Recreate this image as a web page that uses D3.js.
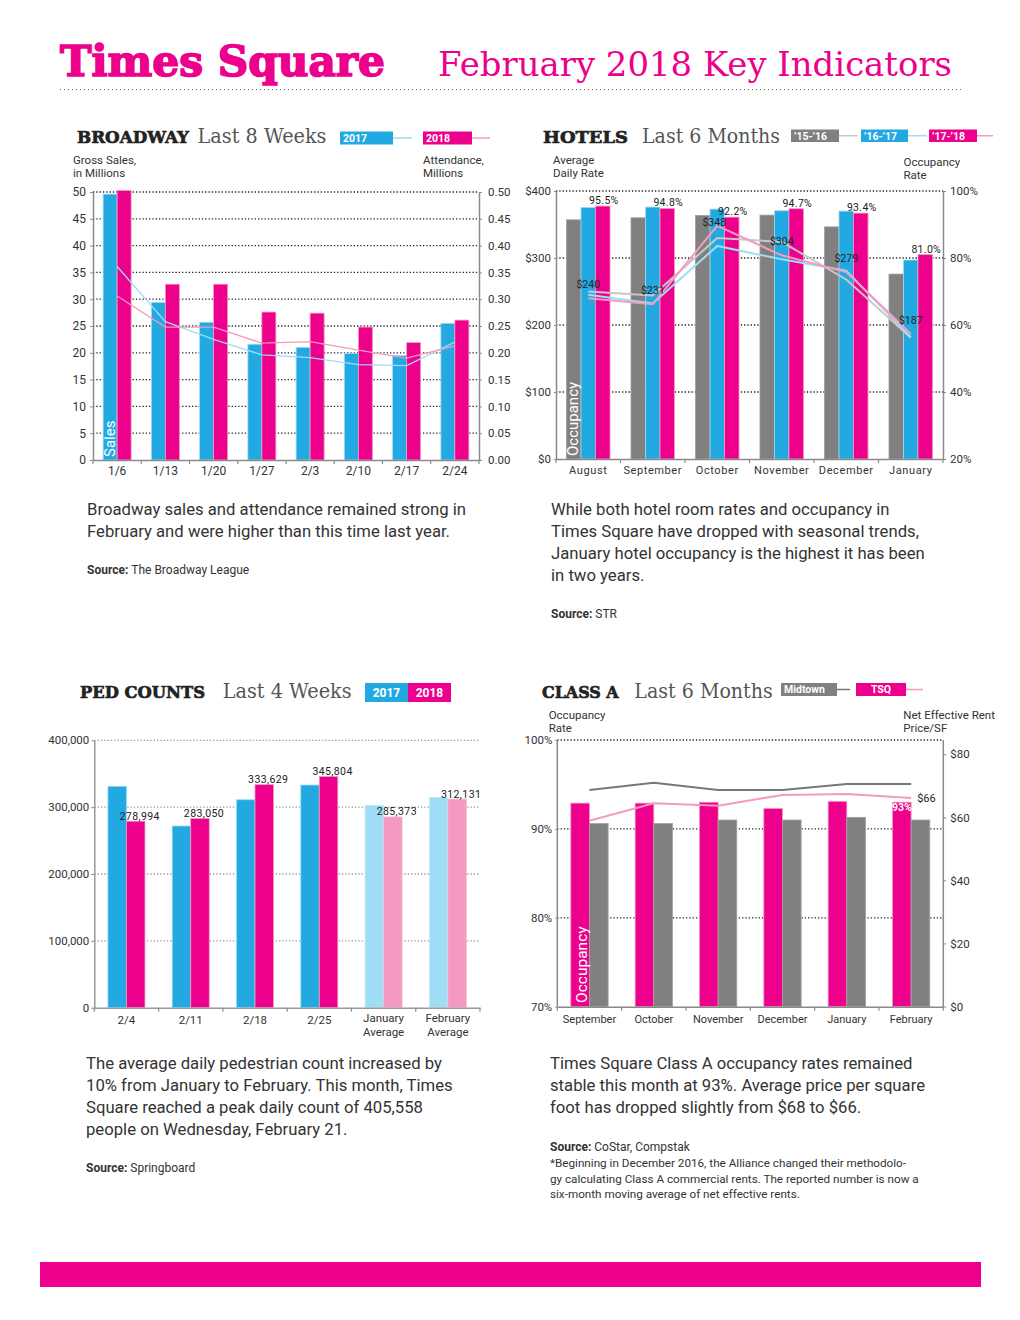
<!DOCTYPE html>
<html><head><meta charset="utf-8">
<script src="https://cdn.jsdelivr.net/npm/d3@7"></script>
<style>
body{margin:0;background:#fff;}
svg{display:block;}
svg{font-family:Roboto,"Noto Sans",sans-serif;}
</style></head><body>
<svg id="c" width="1020" height="1320"></svg>
<script>
// ---------------- DATA ----------------
const bwWeeks = ["1/6","1/13","1/20","1/27","2/3","2/10","2/17","2/24"];
const bwSales2017 = [49.6,29.4,25.7,21.6,21.0,19.9,19.5,25.5];
const bwSales2018 = [50.3,32.8,32.8,27.6,27.4,24.8,21.9,26.1];
const bwAtt2017 = [0.361,0.258,0.225,0.196,0.191,0.178,0.176,0.220];
const bwAtt2018 = [0.306,0.248,0.248,0.218,0.221,0.205,0.190,0.213];
const bwSalesTicks = [0,5,10,15,20,25,30,35,40,45,50];
const bwAttTicks = [0,0.05,0.10,0.15,0.20,0.25,0.30,0.35,0.40,0.45,0.50];

const htMonths = ["August","September","October","November","December","January"];
const htOcc1516 = [91.4,92.0,92.7,92.8,89.3,75.2];
const htOcc1617 = [95.1,95.2,94.6,94.1,94.0,79.4];
const htOcc1718 = [95.5,94.8,92.2,94.7,93.4,81.0];
const htAdr1516 = [250,244,330,324,268,181];
const htAdr1617 = [245,232,318,298,281,182];
const htAdr1718 = [240,231,348,304,279,187];
const htAdrTicks = [0,100,200,300,400];
const htOccTicks = [20,40,60,80,100];

const pedWeeks = ["2/4","2/11","2/18","2/25","January Average","February Average"];
const ped2017 = [331200,271800,311100,333100,302800,314700];
const ped2018 = [278994,283050,333629,345804,285373,312131];
const pedTicks = [0,100000,200000,300000,400000];

const caMonths = ["September","October","November","December","January","February"];
const caOccTSQ = [92.9,92.9,93.0,92.3,93.1,93.0];
const caOccMid = [90.6,90.6,91.0,91.0,91.3,91.0];
const caRentMid = [68.7,71.0,68.7,68.7,70.6,70.6];
const caRentTSQ = [58.9,64.5,63.7,67.1,67.4,66.1];
const caOccTicks = [70,80,90,100];
const caRentTicks = [0,20,40,60,80];

// ---------------- STYLE ----------------
const MAG="#ec008c", BLUE="#22a9e1", GRAY="#808080", LBLUE="#9fdcf5", LPINK="#f49ac1", LGRAY="#c8c8c8", TXT="#333", AX="#8a8a8a";
const SLAB="'DejaVu Serif', serif";
const svg=d3.select("#c");

// ---------------- HEADER ----------------
svg.append("text").attr("x",60).attr("y",76).style("font-family",SLAB).attr("font-weight","bold")
  .attr("font-size",42).attr("fill",MAG).attr("stroke",MAG).attr("stroke-width",1.6)
  .attr("textLength",325).attr("lengthAdjust","spacingAndGlyphs").text("Times Square");
svg.append("text").attr("x",438).attr("y",76).style("font-family",SLAB).attr("font-weight","normal")
  .attr("font-size",34).attr("fill",MAG).attr("textLength",514).attr("lengthAdjust","spacingAndGlyphs").text("February 2018 Key Indicators");
svg.append("line").attr("x1",60).attr("x2",962).attr("y1",89.5).attr("y2",89.5)
  .attr("stroke","#666").attr("stroke-width",1.2).attr("stroke-dasharray","1,3");
svg.append("rect").attr("x",40).attr("y",1262).attr("width",941).attr("height",25).attr("fill",MAG);

function heading(x,y,bold,bw,lx,light,lw){
  svg.append("text").attr("x",x).attr("y",y).style("font-family",SLAB).attr("font-weight","bold")
    .attr("font-size",17.5).attr("fill","#222").attr("stroke","#222").attr("stroke-width",0.7)
    .attr("textLength",bw).attr("lengthAdjust","spacingAndGlyphs").text(bold);
  svg.append("text").attr("x",lx).attr("y",y).style("font-family",SLAB)
    .attr("font-size",20.5).attr("fill","#555").attr("textLength",lw).attr("lengthAdjust","spacingAndGlyphs").text(light);
}
function legendBox(x,y,w,h,fill,label,fs,lineTo,lineColor,anchorMid){
  svg.append("rect").attr("x",x).attr("y",y).attr("width",w).attr("height",h).attr("fill",fill);
  svg.append("text").attr("x",anchorMid? x+w/2 : x+3).attr("y",y+h/2+fs*0.36).attr("text-anchor",anchorMid?"middle":"start")
    .attr("font-size",fs).attr("font-weight","bold").attr("fill","#fff").text(label);
  if(lineTo) svg.append("line").attr("x1",x+w).attr("x2",lineTo).attr("y1",y+h/2).attr("y2",y+h/2)
    .attr("stroke",lineColor).attr("stroke-width",1.5);
}
function lines2(x,y,arr,fs,lh,anchor){
  arr.forEach((t,i)=>svg.append("text").attr("x",x).attr("y",y+i*lh).attr("font-size",fs)
    .attr("fill",TXT).attr("text-anchor",anchor||"start").text(t));
}
function para(x,y,arr){ lines2(x,y,arr,16.7,22); }
function source(x,y,rest){
  const t=svg.append("text").attr("x",x).attr("y",y).attr("font-size",12).attr("fill",TXT);
  t.append("tspan").attr("font-weight","bold").text("Source: ");
  t.append("tspan").text(rest);
}
function styleAxis(g,fs){
  g.attr("font-family",null);
  g.select(".domain").attr("stroke",AX).attr("stroke-width",1.5);
  g.selectAll(".tick line").attr("stroke",AX);
  g.selectAll(".tick text").attr("fill",TXT).attr("font-size",fs);
}
function grid(ticks,y,x0,x1,color,dash){
  svg.append("g").selectAll("line").data(ticks).join("line")
    .attr("x1",x0).attr("x2",x1).attr("y1",d=>y(d)).attr("y2",d=>y(d))
    .attr("stroke",color).attr("stroke-width",1.3).attr("stroke-dasharray",dash);
}
function bandTicks(x,y0){
  const pos=x.domain().map(d=>x(d)).concat([x.range()[1]]);
  svg.append("g").selectAll("line").data(pos).join("line")
    .attr("x1",d=>d).attr("x2",d=>d).attr("y1",y0).attr("y2",y0+4).attr("stroke",AX).attr("stroke-width",1.2);
}
function vlabel(x,y,t,fs){
  svg.append("text").attr("transform",`translate(${x},${y}) rotate(-90)`).attr("font-size",fs)
    .attr("fill","#fff").text(t);
}

// ================= BROADWAY =================
heading(77,143.3,"BROADWAY",112,197.5,"Last 8 Weeks",129);
legendBox(340,131.5,53,13,BLUE,"2017",10.5,412,LBLUE);
legendBox(423,131.5,49,13,MAG,"2018",10.5,490,LPINK);
lines2(73,164,["Gross Sales,","in Millions"],11.5,12.5);
lines2(423,164,["Attendance,","Millions"],11.5,12.5);
{
  const x=d3.scaleBand().domain(bwWeeks).range([93,479]);
  const yL=d3.scaleLinear().domain([0,50]).range([460,192]);
  const yR=d3.scaleLinear().domain([0,0.5]).range([460,192]);
  grid(bwSalesTicks.filter(d=>d>0),yL,93,479,"#222","1.3,2");
  const bw=x.bandwidth()*0.29;
  const c=d=>x(d)+x.bandwidth()/2;
  svg.append("g").selectAll("rect").data(bwWeeks).join("rect")
    .attr("x",d=>c(d)-bw).attr("width",bw).attr("y",(d,i)=>yL(bwSales2017[i])).attr("height",(d,i)=>yL(0)-yL(bwSales2017[i]))
    .attr("fill",BLUE).attr("stroke",LBLUE).attr("stroke-width",0.8);
  svg.append("g").selectAll("rect").data(bwWeeks).join("rect")
    .attr("x",d=>c(d)).attr("width",bw).attr("y",(d,i)=>yL(bwSales2018[i])).attr("height",(d,i)=>yL(0)-yL(bwSales2018[i]))
    .attr("fill",MAG).attr("stroke",LPINK).attr("stroke-width",0.8);
  const ln=(arr)=>d3.line().x((d,i)=>c(bwWeeks[i])).y(d=>yR(d))(arr);
  svg.append("path").attr("d",ln(bwAtt2017)).attr("fill","none").attr("stroke",LBLUE).attr("stroke-width",1.3);
  svg.append("path").attr("d",ln(bwAtt2018)).attr("fill","none").attr("stroke",LPINK).attr("stroke-width",1.3);
  vlabel(c(bwWeeks[0])-2,457,"Sales",15);
  const ga=svg.append("g").attr("transform","translate(93,0)").call(d3.axisLeft(yL).tickValues(bwSalesTicks).tickSize(3).tickPadding(4).tickSizeOuter(0));
  styleAxis(ga,12);
  const gr=svg.append("g").attr("transform","translate(479,0)").call(d3.axisRight(yR).tickValues(bwAttTicks).tickFormat(d3.format(".2f")).tickSize(3).tickPadding(6).tickSizeOuter(0));
  styleAxis(gr,11.5);
  const gb=svg.append("g").attr("transform","translate(0,460)").call(d3.axisBottom(x).tickSize(0).tickPadding(6).tickSizeOuter(0));
  styleAxis(gb,12);
  bandTicks(x,460);
}
para(87,515,["Broadway sales and attendance remained strong in","February and were higher than this time last year."]);
source(87,574,"The Broadway League");

// ================= HOTELS =================
heading(543,143,"HOTELS",85,642,"Last 6 Months",138);
legendBox(791,129.5,48,12.5,GRAY,"\u201915-\u201916",10.5,858,LGRAY);
legendBox(861,129.5,47,12.5,BLUE,"\u201916-\u201917",10.5,927,LBLUE);
legendBox(929,129.5,48,12.5,MAG,"\u201917-\u201918",10.5,993,LPINK);
lines2(553,164,["Average","Daily Rate"],11.5,12.7);
lines2(903.5,166,["Occupancy","Rate"],11.5,12.5);
{
  const x=d3.scaleBand().domain(htMonths).range([556,943]);
  const yL=d3.scaleLinear().domain([0,400]).range([459,191]);
  const yR=d3.scaleLinear().domain([20,100]).range([459,191]);
  grid(htAdrTicks.filter(d=>d>0),yL,556,943,"#222","1.3,2");
  const bw=x.bandwidth()*0.225;
  const c=d=>x(d)+x.bandwidth()/2;
  [[htOcc1516,GRAY,"#a0a0a0",-1.5],[htOcc1617,BLUE,LBLUE,-0.5],[htOcc1718,MAG,LPINK,0.5]].forEach(([arr,f,s,o])=>{
    svg.append("g").selectAll("rect").data(htMonths).join("rect")
      .attr("x",d=>c(d)+o*bw).attr("width",bw).attr("y",(d,i)=>yR(arr[i])).attr("height",(d,i)=>yR(20)-yR(arr[i]))
      .attr("fill",f).attr("stroke",s).attr("stroke-width",0.8);
  });
  const ln=(arr)=>d3.line().x((d,i)=>c(htMonths[i])).y(d=>yL(d))(arr);
  svg.append("path").attr("d",ln(htAdr1516)).attr("fill","none").attr("stroke",LGRAY).attr("stroke-width",2);
  svg.append("path").attr("d",ln(htAdr1617)).attr("fill","none").attr("stroke",LBLUE).attr("stroke-width",2);
  svg.append("path").attr("d",ln(htAdr1718)).attr("fill","none").attr("stroke",LPINK).attr("stroke-width",2);
  const pctY=htOcc1718.map(v=>yR(v)-2);
  svg.append("g").selectAll("text").data(htMonths).join("text")
    .attr("x",d=>c(d)+bw+1).attr("y",(d,i)=>pctY[i]).attr("text-anchor","middle")
    .attr("font-size",10.5).attr("fill","#222").attr("letter-spacing",0.3).text((d,i)=>d3.format(".1f")(htOcc1718[i])+"%");
  svg.append("g").selectAll("text").data(htMonths).join("text")
    .attr("x",(d,i)=>{const y=yL(htAdr1718[i])-10; return Math.abs(y-pctY[i])<12? c(d)-3 : c(d);})
    .attr("y",(d,i)=>{const y=yL(htAdr1718[i])-10; return Math.abs(y-pctY[i])<12? yL(htAdr1718[i]) : y;})
    .attr("text-anchor","middle").attr("font-size",10.5).attr("fill","#222").text((d,i)=>"$"+htAdr1718[i]);
  vlabel(c(htMonths[0])-bw*1.5+12,456,"Occupancy",15);
  const ga=svg.append("g").attr("transform","translate(556,0)").call(d3.axisLeft(yL).tickValues(htAdrTicks).tickFormat(d=>"$"+d).tickSize(2).tickPadding(3).tickSizeOuter(0));
  styleAxis(ga,11.5);
  const gr=svg.append("g").attr("transform","translate(943,0)").call(d3.axisRight(yR).tickValues(htOccTicks).tickFormat(d=>d+"%").tickSize(3).tickPadding(4).tickSizeOuter(0));
  styleAxis(gr,11.5);
  const gb=svg.append("g").attr("transform","translate(0,459)").call(d3.axisBottom(x).tickSize(0).tickPadding(7).tickSizeOuter(0));
  styleAxis(gb,11);
  gb.selectAll(".tick text").attr("letter-spacing",0.6);
  bandTicks(x,459);
}
para(551,515,["While both hotel room rates and occupancy in","Times Square have dropped with seasonal trends,","January hotel occupancy is the highest it has been","in two years."]);
source(551,618,"STR");

// ================= PED COUNTS =================
heading(80,697.7,"PED COUNTS",125,222.7,"Last 4 Weeks",129);
legendBox(365,683,43,19,BLUE,"2017",12,null,null,true);
legendBox(408,683,43,19,MAG,"2018",12,null,null,true);
{
  const x=d3.scaleBand().domain(pedWeeks).range([94.3,480]);
  const y=d3.scaleLinear().domain([0,400000]).range([1007.7,740.3]);
  grid(pedTicks.filter(d=>d>0),y,94.3,480,"#999","1.3,2");
  const bw=x.bandwidth()*0.288;
  const c=d=>x(d)+x.bandwidth()/2;
  const isAvg=d=>d.includes("Average");
  svg.append("g").selectAll("rect").data(pedWeeks).join("rect")
    .attr("x",d=>c(d)-bw).attr("width",bw).attr("y",(d,i)=>y(ped2017[i])).attr("height",(d,i)=>y(0)-y(ped2017[i]))
    .attr("fill",d=>isAvg(d)?LBLUE:BLUE).attr("stroke",d=>isAvg(d)?"#c4ebfa":LBLUE).attr("stroke-width",0.8);
  svg.append("g").selectAll("rect").data(pedWeeks).join("rect")
    .attr("x",d=>c(d)).attr("width",bw).attr("y",(d,i)=>y(ped2018[i])).attr("height",(d,i)=>y(0)-y(ped2018[i]))
    .attr("fill",d=>isAvg(d)?LPINK:MAG).attr("stroke",d=>isAvg(d)?"#f8c0d8":LPINK).attr("stroke-width",0.8);
  svg.append("g").selectAll("text").data(pedWeeks).join("text")
    .attr("x",d=>c(d)+bw/2+4).attr("y",(d,i)=>y(ped2018[i])-1.5).attr("text-anchor","middle")
    .attr("font-size",10.5).attr("letter-spacing",0.4).attr("fill","#222").text((d,i)=>d3.format(",")(ped2018[i]));
  const ga=svg.append("g").attr("transform","translate(94.3,0)").call(d3.axisLeft(y).tickValues(pedTicks).tickFormat(d3.format(",")).tickSize(3).tickPadding(2).tickSizeOuter(0));
  styleAxis(ga,11.5);
  ga.select(".domain").attr("stroke","#999");
  const gb=svg.append("g").attr("transform","translate(0,1007.7)").call(d3.axisBottom(x).tickSize(0).tickPadding(0).tickSizeOuter(0));
  styleAxis(gb,11.5);
  gb.select(".domain").attr("stroke","#999");
  gb.selectAll(".tick text").each(function(d){
    const t=d3.select(this); const parts=d.split(" ");
    t.text(null).attr("dy",null);
    parts.forEach((p,i)=>t.append("tspan").attr("x",0).attr("y",parts.length>1? 14.5+i*14.3 : 16).text(p));
  });
  bandTicks(x,1007.7);
}
para(86,1069,["The average daily pedestrian count increased by","10% from January to February. This month, Times","Square reached a peak daily count of 405,558","people on Wednesday, February 21."]);
source(86,1172,"Springboard");

// ================= CLASS A =================
heading(542,697.7,"CLASS A",76.7,634.3,"Last 6 Months",138.5);
legendBox(781,683,56,13,GRAY,"Midtown",10.5,850,"#777");
legendBox(856,683,50,13,MAG,"TSQ",10.5,923,LPINK,true);
lines2(548.7,719,["Occupancy","Rate"],11.5,12.7);
lines2(903.3,719,["Net Effective Rent","Price/SF"],11.5,12.7);
{
  const x=d3.scaleBand().domain(caMonths).range([557.3,943.3]);
  const yL=d3.scaleLinear().domain([70,100]).range([1006.7,740]);
  const yR=d3.scaleLinear().domain([0,80]).range([1006.5,754.3]);
  grid(caOccTicks.filter(d=>d>70),yL,557.3,943.3,"#222","1.3,2");
  const bw=x.bandwidth()*0.29;
  const c=d=>x(d)+x.bandwidth()/2;
  svg.append("g").selectAll("rect").data(caMonths).join("rect")
    .attr("x",d=>c(d)-bw).attr("width",bw).attr("y",(d,i)=>yL(caOccTSQ[i])).attr("height",(d,i)=>yL(70)-yL(caOccTSQ[i]))
    .attr("fill",MAG).attr("stroke",LPINK).attr("stroke-width",0.8);
  svg.append("g").selectAll("rect").data(caMonths).join("rect")
    .attr("x",d=>c(d)).attr("width",bw).attr("y",(d,i)=>yL(caOccMid[i])).attr("height",(d,i)=>yL(70)-yL(caOccMid[i]))
    .attr("fill",GRAY).attr("stroke","#a0a0a0").attr("stroke-width",0.8);
  const ln=(arr)=>d3.line().x((d,i)=>c(caMonths[i])).y(d=>yR(d))(arr);
  svg.append("path").attr("d",ln(caRentMid)).attr("fill","none").attr("stroke","#777").attr("stroke-width",2);
  svg.append("path").attr("d",ln(caRentTSQ)).attr("fill","none").attr("stroke",LPINK).attr("stroke-width",2);
  const last=caMonths.length-1;
  svg.append("text").attr("x",c(caMonths[last])-bw/2).attr("y",yL(caOccTSQ[last])+9).attr("text-anchor","middle")
    .attr("font-size",10.5).attr("font-weight","bold").attr("fill","#fff").text(Math.round(caOccTSQ[last])+"%");
  svg.append("text").attr("x",c(caMonths[last])+6).attr("y",yR(caRentTSQ[last])+4).attr("font-size",11)
    .attr("fill","#222").text("$"+Math.round(caRentTSQ[last]));
  vlabel(c(caMonths[0])-bw+16.5,1003,"Occupancy",15.5);
  const ga=svg.append("g").attr("transform","translate(557.3,0)").call(d3.axisLeft(yL).tickValues(caOccTicks).tickFormat(d=>d+"%").tickSize(2).tickPadding(3).tickSizeOuter(0));
  styleAxis(ga,11.5);
  ga.select(".domain").attr("d","M0,740V1006.7");
  const gr=svg.append("g").attr("transform","translate(943.3,0)").call(d3.axisRight(yR).tickValues(caRentTicks).tickFormat(d=>"$"+d).tickSize(3).tickPadding(4).tickSizeOuter(0));
  styleAxis(gr,11.5);
  gr.select(".domain").attr("d","M0,740V1006.7");
  const gb=svg.append("g").attr("transform","translate(0,1006.7)").call(d3.axisBottom(x).tickSize(0).tickPadding(9).tickSizeOuter(0));
  styleAxis(gb,11);
  bandTicks(x,1006.7);
}
para(550,1068.5,["Times Square Class A occupancy rates remained","stable this month at 93%. Average price per square","foot has dropped slightly from $68 to $66."]);
source(550,1151,"CoStar, Compstak");
lines2(550,1167,["*Beginning in December 2016, the Alliance changed their methodolo-","gy calculating Class A commercial rents. The reported number is now a","six-month moving average of net effective rents."],11.7,15.5);
</script>
</body></html>
